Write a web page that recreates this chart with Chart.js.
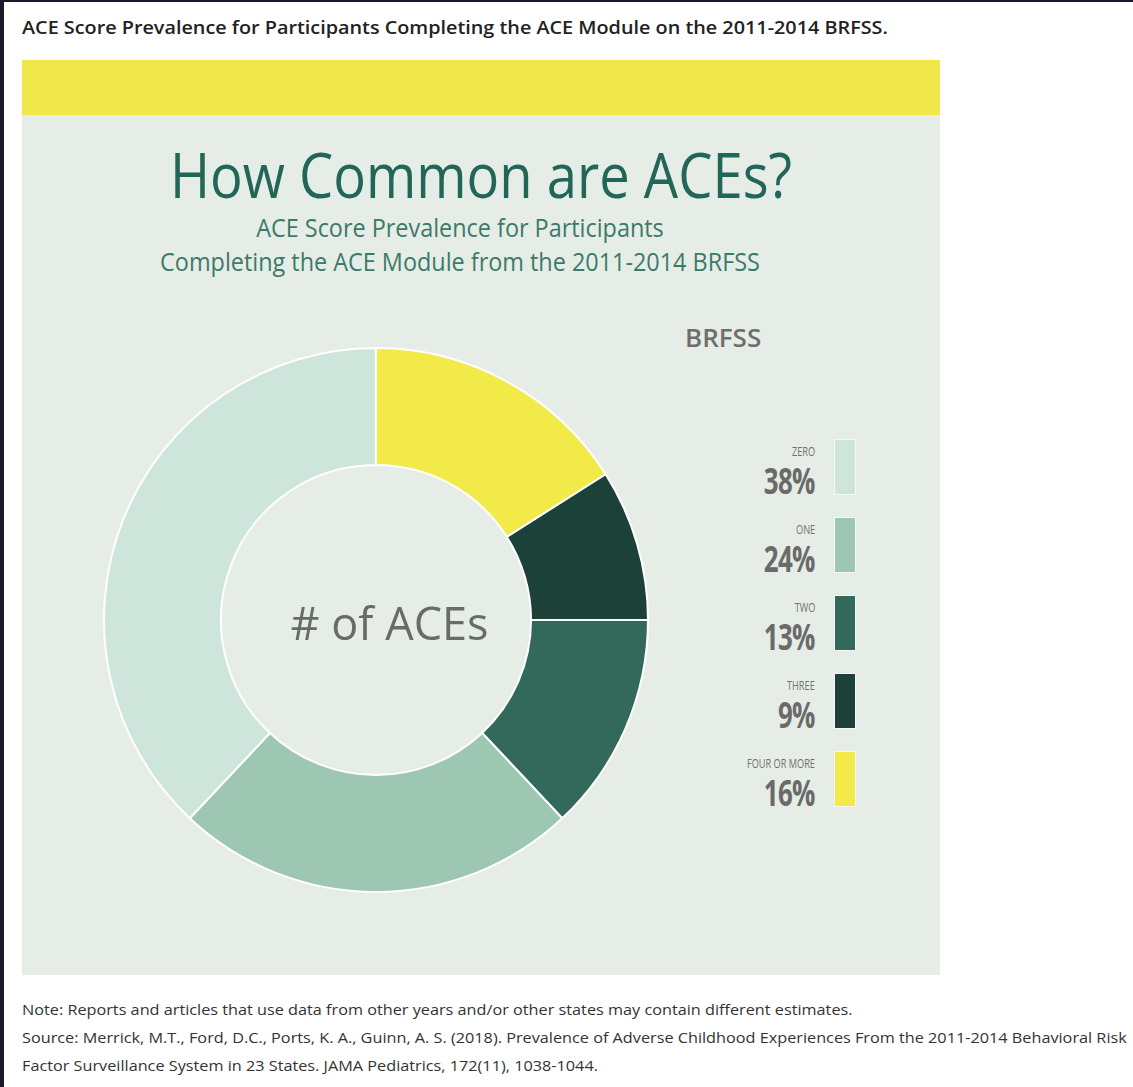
<!DOCTYPE html>
<html>
<head>
<meta charset="utf-8">
<script src="https://cdn.jsdelivr.net/npm/chart.js@4.4.1/dist/chart.umd.min.js"></script>
<style>
  html, body { margin: 0; padding: 0; background: #fff; }
  body { width: 1133px; height: 1087px; position: relative; overflow: hidden; font-family: "Open Sans", sans-serif; }
  .edge-left { position: absolute; left: 0; top: 0; width: 4px; height: 1087px; background: #1c1b2c; }
  .edge-top { position: absolute; left: 0; top: 0; width: 1133px; height: 2px; background: #1c1b2c; }
  .title { position: absolute; left: 22px; top: 15px; font-size: 18px; font-weight: 600; color: #222; white-space: nowrap; transform: scaleX(1.1); transform-origin: left center; }
  .panel { position: absolute; left: 22px; top: 60px; width: 918px; height: 915px; background: #e6ede6; }
  .band { position: absolute; left: 0; top: 0; width: 918px; height: 55px; background: #f0e84b; }
  .heading { position: absolute; left: 0; width: 918px; top: 72px; text-align: center; font-size: 62px; color: #22665a; white-space: nowrap; transform: scaleX(0.877); }
  .sub { position: absolute; left: 0; width: 876px; text-align: center; font-size: 26px; color: #3b7a69; white-space: nowrap; transform: scaleX(0.9); }
  .brfss { position: absolute; left: 663px; top: 259px; font-size: 26px; font-weight: 600; color: #6e6e6e; }
  .legend { position: absolute; left: 600px; top: 380px; width: 260px; }
  .item { position: absolute; left: 0; width: 260px; height: 54px; }
  .item .lab { position: absolute; right: 67px; top: 2px; font-size: 13.5px; color: #707070; transform: scaleX(0.68); transform-origin: right center; white-space: nowrap; }
  .item .pct { position: absolute; right: 67px; bottom: -10px; font-size: 35px; font-weight: 700; color: #6a6a6a; transform: scaleX(0.74); transform-origin: right center; white-space: nowrap; letter-spacing: -1px; }
  .item .sw { position: absolute; left: 213px; top: 0; width: 20px; height: 54px; box-shadow: 0 0 0 1px rgba(255,255,255,0.6); }
  #wrap { position: absolute; left: 81px; top: 287px; width: 546px; height: 546px; }
  .center { position: absolute; left: 22px; width: 735px; top: 592px; text-align: center; font-size: 45px; color: #676c6a; white-space: nowrap; }
  .notes { position: absolute; left: 22px; top: 996px; font-size: 14px; line-height: 28px; color: #333; white-space: nowrap; transform: scaleX(1.16); transform-origin: left top; }
</style>
</head>
<body>
<div class="edge-left"></div>
<div class="edge-top"></div>
<div class="title">ACE Score Prevalence for Participants Completing the ACE Module on the 2011-2014 BRFSS.</div>
<div class="panel">
  <div class="band"></div>
  <div class="heading">How Common are ACEs?</div>
  <div class="sub" style="top:149px">ACE Score Prevalence for Participants</div>
  <div class="sub" style="top:183px">Completing the ACE Module from the 2011-2014 BRFSS</div>
  <div class="brfss">BRFSS</div>
  <div class="legend" id="legend"></div>
  <div id="wrap"><canvas id="donut" width="546" height="546"></canvas></div>
</div>
<div class="center"># of ACEs</div>
<div class="notes">
  Note: Reports and articles that use data from other years and/or other states may contain different estimates.<br>
  Source: Merrick, M.T., Ford, D.C., Ports, K. A., Guinn, A. S. (2018). Prevalence of Adverse Childhood Experiences From the 2011-2014 Behavioral Risk<br>
  Factor Surveillance System in 23 States. JAMA Pediatrics, 172(11), 1038-1044.
</div>
<script>
var aceLabels = ['ZERO', 'ONE', 'TWO', 'THREE', 'FOUR OR MORE'];
var acePercent = [38, 24, 13, 9, 16];
var aceColors = ['#cde5da', '#9dc6b3', '#33695b', '#1c4138', '#f2ea48'];

// legend column on the right, one row per ACE count
var legend = document.getElementById('legend');
aceLabels.forEach(function (label, i) {
    var row = document.createElement('div');
    row.className = 'item';
    row.style.top = (i * 78) + 'px';
    row.innerHTML = '<span class="lab">' + label + '</span>' +
        '<span class="pct">' + acePercent[i] + '%</span>' +
        '<span class="sw" style="background:' + aceColors[i] + '"></span>';
    legend.appendChild(row);
});

// ring runs clockwise from the top: four or more first, zero last
var ringLabels = aceLabels.slice().reverse();
var ringValues = acePercent.slice().reverse();
var ringColors = aceColors.slice().reverse();

new Chart(document.getElementById('donut').getContext('2d'), {
    type: 'doughnut',
    data: {
        labels: ringLabels,
        datasets: [{
            data: ringValues,
            backgroundColor: ringColors,
            borderColor: '#ffffff',
            borderWidth: 2
        }]
    },
    options: {
        responsive: false,
        animation: false,
        cutout: '57%',
        rotation: 0,
        plugins: {
            legend: { display: false },
            tooltip: { enabled: false }
        }
    }
});
</script>
</body>
</html>
